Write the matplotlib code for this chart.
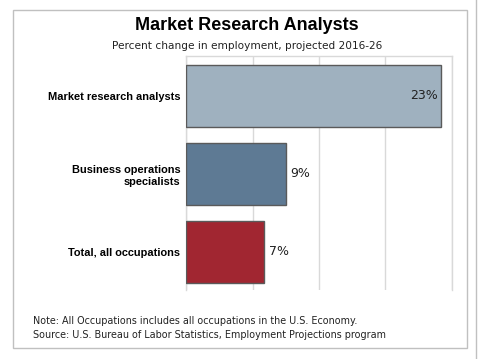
import matplotlib
matplotlib.use("Agg")
import matplotlib.pyplot as plt
from matplotlib.patches import Rectangle
from matplotlib.lines import Line2D
from matplotlib import font_manager

categories = ["Market research analysts", "Business operations\nspecialists", "Total, all occupations"]
values = [23, 9, 7]
colors = ["#9FB1BF", "#5E7A94", "#A12631"]
labels = ["23%", "9%", "7%"]
title = "Market Research Analysts"
subtitle = "Percent change in employment, projected 2016-26"
note = "Note: All Occupations includes all occupations in the U.S. Economy."
source = "Source: U.S. Bureau of Labor Statistics, Employment Projections program"

names = {f.name for f in font_manager.fontManager.ttflist}
if "DejaVu Sans Condensed" in names:
    txt_font = dict(fontfamily="DejaVu Sans Condensed")
    sub_size, note_size = 8.5, 7.3
else:
    txt_font = dict(fontfamily="DejaVu Sans")
    sub_size, note_size = 7.6, 6.95

W, H = 478, 359
fig = plt.figure(figsize=(W/100, H/100), dpi=100)
fig.patch.set_facecolor("white")

ax = fig.add_axes([186/W, 1-290/H, (452-186)/W, (290-56)/H])
y = list(range(len(categories)))
ax.barh(y, values, height=0.79, color=colors, edgecolor="#5a5a5a", linewidth=1.0, zorder=3)
ax.set_xlim(0, 24)
ax.set_ylim(2.49, -0.51)
ax.set_xticks([0, 6, 12, 18, 24])
ax.grid(axis="x", color="#d9d9d9", linewidth=1.0, zorder=0)
ax.tick_params(axis="x", length=0, labelbottom=False)
ax.tick_params(axis="y", length=0, pad=4)
ax.set_yticks(y)
ax.set_yticklabels(categories, fontfamily="Liberation Sans", fontweight="bold", fontsize=7.9, linespacing=1.3)
for s in ["top", "left", "right"]:
    ax.spines[s].set_color("#d9d9d9")
    ax.spines[s].set_linewidth(1.0)
ax.spines["bottom"].set_visible(False)

for i, (v, lab) in enumerate(zip(values, labels)):
    if i == 0:
        ax.text(v - 0.3, i, lab, ha="right", va="center", fontsize=9, color="#222222", zorder=4, **txt_font)
    else:
        ax.text(v + 0.45, i, lab, ha="left", va="center", fontsize=9, color="#222222", zorder=4, **txt_font)

fig.text(246.5/W, 1-25/H, title, ha="center", va="center", fontsize=13, fontweight="bold", fontfamily="Liberation Sans")
fig.text(247/W, 1-46/H, subtitle, ha="center", va="center", fontsize=sub_size, color="#222222", **txt_font)
fig.text(33/W, 1-321/H, note, ha="left", va="center", fontsize=note_size, color="#222222", **txt_font)
fig.text(33/W, 1-335/H, source, ha="left", va="center", fontsize=note_size, color="#222222", **txt_font)

fig.patches.append(Rectangle((12.5/W, 1-348/H), (467.3-12.5)/W, (348-10)/H, transform=fig.transFigure,
                             fill=False, edgecolor="#c0c0c0", linewidth=1.0))
fig.lines.append(Line2D([476/W, 476/W], [0, 1], transform=fig.transFigure, color="#c0c0c0", linewidth=1.0))

fig.savefig("out.png", dpi=100)
